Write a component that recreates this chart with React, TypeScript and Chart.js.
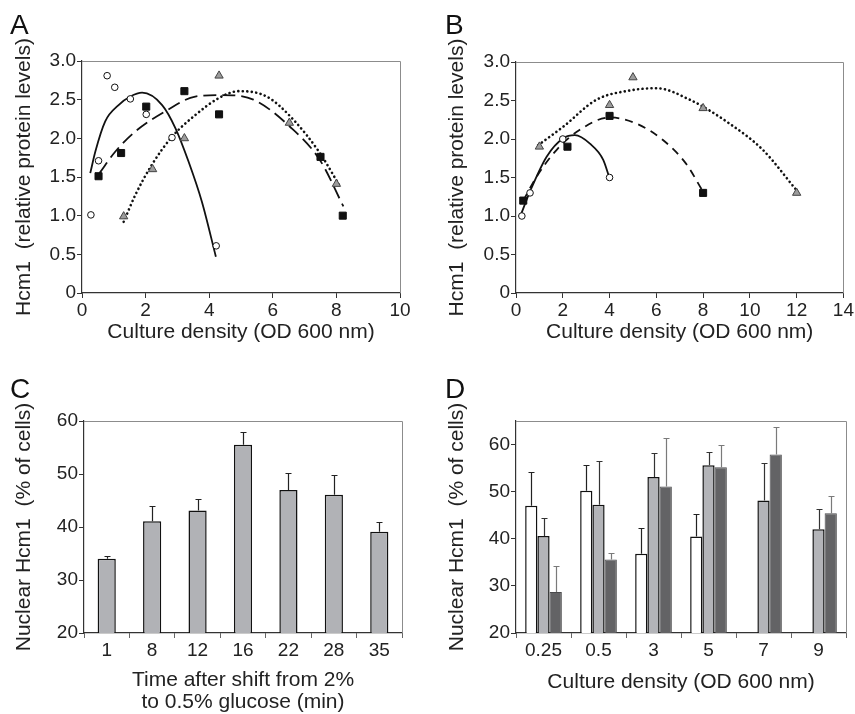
import React, { useEffect, useRef } from "react";
import { Chart, registerables } from "chart.js";
Chart.register(...registerables);

const FONT = "'Liberation Sans', Arial, Helvetica, sans-serif";
const TXT = "#222";
const AXIS = "#333";

// ---------- Panel A ----------
const aCircleX = [0.28, 0.52, 0.79, 1.03, 1.52, 2.02, 2.83, 4.22];
const aCircleY = [1.01, 1.71, 2.81, 2.66, 2.51, 2.31, 2.01, 0.61];
const aSquareX = [0.52, 1.23, 2.02, 3.22, 4.31, 7.5, 8.2];
const aSquareY = [1.51, 1.81, 2.41, 2.61, 2.31, 1.76, 1.0];
const aTriX = [1.31, 2.22, 3.22, 4.31, 6.52, 8.0];
const aTriY = [0.99, 1.6, 2.0, 2.81, 2.2, 1.41];
const aSolidX = [0.26, 0.42, 0.73, 1.15, 1.52, 1.89, 2.52, 2.94, 3.35, 3.77, 4.21];
const aSolidY = [1.55, 1.83, 2.22, 2.43, 2.54, 2.59, 2.43, 2.13, 1.7, 1.18, 0.47];
const aDashX = [0.55, 1.05, 1.68, 2.62, 3.56, 4.4, 5.39, 6.54, 7.48, 8.22];
const aDashY = [1.55, 1.83, 2.09, 2.35, 2.54, 2.56, 2.5, 2.15, 1.72, 1.12];
const aDotX = [1.31, 1.68, 2.2, 2.83, 3.56, 4.3, 4.93, 5.81, 6.65, 7.48, 8.11];
const aDotY = [0.92, 1.27, 1.66, 2.02, 2.3, 2.52, 2.61, 2.54, 2.24, 1.81, 1.38];

// ---------- Panel B ----------
const bCircleX = [0.25, 0.6, 2.0, 4.0];
const bCircleY = [1.0, 1.3, 2.0, 1.5];
const bSquareX = [0.31, 2.2, 4.0, 8.0];
const bSquareY = [1.2, 1.9, 2.3, 1.3];
const bTriX = [1.0, 4.0, 5.0, 8.0, 12.0];
const bTriY = [1.9, 2.44, 2.8, 2.4, 1.3];
const bSolidX = [0.2, 0.6, 1.31, 2.02, 2.52, 3.16, 3.73, 3.98];
const bSolidY = [1.01, 1.32, 1.77, 2.01, 2.05, 1.94, 1.73, 1.51];
const bDashX = [0.31, 0.88, 1.74, 2.73, 4.01, 5.15, 6.27, 7.27, 7.99];
const bDashY = [1.2, 1.51, 1.86, 2.12, 2.28, 2.2, 1.99, 1.68, 1.32];
const bDotX = [0.95, 2.02, 3.44, 4.87, 6.0, 7.43, 9.13, 10.55, 11.98];
const bDotY = [1.92, 2.16, 2.51, 2.63, 2.66, 2.51, 2.2, 1.86, 1.34];

// ---------- Panel C ----------
const cLabels = ["1", "8", "12", "16", "22", "28", "35"];
const cValues = [34.0, 41.1, 43.1, 55.5, 47.0, 46.1, 39.1];
const cErrTop = [34.5, 43.9, 45.3, 58.0, 50.1, 49.9, 40.9];

// ---------- Panel D ----------
const dLabels = ["0.25", "0.5", "3", "5", "7", "9"];
const dWhite = [47.0, 50.2, 36.8, 40.5, null, null];
const dWhiteErr = [54.1, 55.7, 42.3, 45.2, null, null];
const dLight = [40.6, 47.2, 53.1, 55.6, 48.1, 42.0];
const dLightErr = [44.4, 56.5, 58.2, 58.4, 56.1, 46.4];
const dDark = [28.7, 35.6, 51.1, 55.2, 57.9, 45.4];
const dDarkErr = [34.2, 37.0, 61.3, 59.9, 63.7, 49.0];

const pts = (xs: number[], ys: number[]) => xs.map((x, i) => ({ x, y: ys[i] }));

const framePlugin = {
  id: "frame",
  beforeDatasetsDraw(chart: any) {
    const { ctx, chartArea } = chart;
    const { left, top, right, bottom } = chartArea;
    ctx.save();
    ctx.strokeStyle = "#8c8c8c";
    ctx.lineWidth = 1;
    ctx.beginPath();
    ctx.moveTo(left, Math.round(top) + 0.5);
    ctx.lineTo(Math.round(right) + 0.5, Math.round(top) + 0.5);
    ctx.lineTo(Math.round(right) + 0.5, bottom);
    ctx.stroke();
    ctx.restore();
  },
};

const errorPlugin = {
  id: "errbars",
  afterDatasetsDraw(chart: any) {
    const ctx = chart.ctx;
    const ys = chart.scales.y;
    chart.data.datasets.forEach((ds: any, i: number) => {
      if (!ds.errTop) return;
      const meta = chart.getDatasetMeta(i);
      meta.data.forEach((el: any, j: number) => {
        const v = ds.data[j];
        const e = ds.errTop[j];
        if (v == null || e == null) return;
        const x = Math.round(el.x) + 0.5;
        const y1 = Math.round(ys.getPixelForValue(e)) + 0.5;
        ctx.save();
        ctx.strokeStyle = ds.errColor || "#222";
        ctx.lineWidth = 1.2;
        ctx.beginPath();
        ctx.moveTo(x, el.y);
        ctx.lineTo(x, y1);
        ctx.moveTo(x - 3, y1);
        ctx.lineTo(x + 3, y1);
        ctx.stroke();
        ctx.restore();
      });
    });
  },
};

const titleFont = { family: FONT, size: 21 };
const tickFont = { family: FONT, size: 19 };

function markerSets(cx: number[], cy: number[], sx: number[], sy: number[], tx: number[], ty: number[]) {
  return [
    {
      data: pts(cx, cy), showLine: false, order: 0,
      pointStyle: "circle", pointRadius: 3.3, pointBackgroundColor: "#fff",
      pointBorderColor: "#111", pointBorderWidth: 1,
    },
    {
      data: pts(sx, sy), showLine: false, order: 0,
      pointStyle: "rect", pointRadius: 5, pointBackgroundColor: "#111",
      pointBorderColor: "#111", pointBorderWidth: 1,
    },
    {
      data: pts(tx, ty), showLine: false, order: 0,
      pointStyle: "triangle", pointRadius: 4.8, pointBackgroundColor: "#9c9c9c",
      pointBorderColor: "#444", pointBorderWidth: 1,
    },
  ];
}

function curveSet(xs: number[], ys: number[], dash: number[], width: number, cap: string) {
  return {
    data: pts(xs, ys), showLine: true, order: 1, pointRadius: 0,
    borderColor: "#111", borderWidth: width, borderDash: dash, borderCapStyle: cap,
    cubicInterpolationMode: "monotone", fill: false,
  };
}

function scatterConfig(opts: any) {
  return {
    type: "scatter",
    data: { datasets: opts.datasets },
    options: {
      responsive: false,
      animation: false,
      events: [],
      layout: { padding: { left: 0, top: opts.top, right: opts.right, bottom: 0 } },
      plugins: { legend: { display: false }, tooltip: { enabled: false } },
      scales: {
        x: {
          type: "linear", min: 0, max: opts.xMax,
          afterFit: (s: any) => { s.height = opts.xHeight; },
          ticks: { stepSize: 2, font: tickFont, color: TXT, padding: 1, maxRotation: 0 },
          grid: { drawOnChartArea: false, drawTicks: true, tickLength: 5, color: AXIS },
          border: { color: AXIS, width: 1.2 },
          title: { display: true, text: "Culture density (OD 600 nm)", font: titleFont, color: TXT, padding: { top: 0, bottom: opts.xTitlePad } },
        },
        y: {
          type: "linear", min: 0, max: 3,
          afterFit: (s: any) => { s.width = opts.yWidth; },
          ticks: {
            stepSize: 0.5, font: tickFont, color: TXT, padding: 1,
            callback: (v: number) => (v === 0 ? "0" : v.toFixed(1)),
          },
          grid: { drawOnChartArea: false, drawTicks: true, tickLength: 5, color: AXIS },
          border: { color: AXIS, width: 1.2 },
          title: { display: true, text: "Hcm1  (relative protein levels)", font: titleFont, color: TXT, padding: { top: opts.yTitlePad, bottom: 0 } },
        },
      },
    },
    plugins: [framePlugin],
  };
}

function barConfig(opts: any) {
  return {
    type: "bar",
    data: { labels: opts.labels, datasets: opts.datasets },
    options: {
      responsive: false,
      animation: false,
      events: [],
      layout: { padding: { left: 0, top: opts.top, right: opts.right, bottom: 0 } },
      plugins: { legend: { display: false }, tooltip: { enabled: false } },
      datasets: { bar: { categoryPercentage: opts.catPct, barPercentage: opts.barPct } },
      scales: {
        x: {
          type: "category",
          afterFit: (s: any) => { s.height = opts.xHeight; },
          ticks: { font: tickFont, color: TXT, padding: 1, maxRotation: 0 },
          grid: { offset: true, drawOnChartArea: false, drawTicks: true, tickLength: 5, color: "#666" },
          border: { color: AXIS, width: 1.2 },
          title: { display: true, text: opts.xTitle, font: { ...titleFont, lineHeight: 1.05 }, color: TXT, padding: { top: 0, bottom: opts.xTitlePad } },
        },
        y: {
          type: "linear", min: 20, max: opts.yMax,
          afterFit: (s: any) => { s.width = opts.yWidth; },
          ticks: { stepSize: 10, includeBounds: false, font: tickFont, color: TXT, padding: 1 },
          grid: { drawOnChartArea: false, drawTicks: true, tickLength: 5, color: AXIS },
          border: { color: AXIS, width: 1.2 },
          title: { display: true, text: "Nuclear Hcm1  (% of cells)", font: titleFont, color: TXT, padding: { top: opts.yTitlePad, bottom: 0 } },
        },
      },
    },
    plugins: [framePlugin, errorPlugin],
  };
}

function ChartPanel({ left, top, width, height, make }: any) {
  const ref = useRef<HTMLCanvasElement | null>(null);
  useEffect(() => {
    if (!ref.current) return;
    const chart = new Chart(ref.current, make() as any);
    return () => chart.destroy();
  }, []);
  return (
    <canvas
      ref={ref}
      width={width}
      height={height}
      style={{ position: "absolute", left, top, width, height }}
    />
  );
}

const letterStyle = (left: number, top: number): React.CSSProperties => ({
  position: "absolute", left, top, fontFamily: FONT, fontSize: 28, lineHeight: "28px", color: "#111",
});

export default function App() {
  const makeA = () =>
    scatterConfig({
      xMax: 10, top: 61, right: 27, xHeight: 64, yWidth: 82, xTitlePad: 12, yTitlePad: 12,
      datasets: [
        ...markerSets(aCircleX, aCircleY, aSquareX, aSquareY, aTriX, aTriY),
        curveSet(aSolidX, aSolidY, [], 1.8, "butt"),
        curveSet(aDashX, aDashY, [13, 6], 1.8, "butt"),
        curveSet(aDotX, aDotY, [0.1, 4.4], 2.6, "round"),
      ],
    });
  const makeB = () =>
    scatterConfig({
      xMax: 14, top: 62, right: 11, xHeight: 64, yWidth: 89, xTitlePad: 12, yTitlePad: 18,
      datasets: [
        ...markerSets(bCircleX, bCircleY, bSquareX, bSquareY, bTriX, bTriY),
        curveSet(bSolidX, bSolidY, [], 1.8, "butt"),
        curveSet(bDashX, bDashY, [8, 6], 1.8, "butt"),
        curveSet(bDotX, bDotY, [0.1, 4.4], 2.6, "round"),
      ],
    });
  const makeC = () =>
    barConfig({
      labels: cLabels, yMax: 60, top: 64, right: 25, xHeight: 81, yWidth: 84, xTitlePad: 1, yTitlePad: 12,
      catPct: 1, barPct: 0.4,
      xTitle: ["Time after shift from 2%", "to 0.5% glucose (min)"],
      datasets: [
        {
          data: cValues, errTop: cErrTop, errColor: "#222",
          backgroundColor: "#b1b2b6", borderColor: "#111", borderWidth: 1.5,
        },
      ],
    });
  const makeD = () =>
    barConfig({
      labels: dLabels, yMax: 65, top: 64, right: 9, xHeight: 81, yWidth: 89, xTitlePad: 21, yTitlePad: 18,
      catPct: 0.667, barPct: 1,
      xTitle: "Culture density (OD 600 nm)",
      datasets: [
        { data: dWhite, errTop: dWhiteErr, errColor: "#222", backgroundColor: "#ffffff", borderColor: "#111", borderWidth: 1.5 },
        { data: dLight, errTop: dLightErr, errColor: "#333", backgroundColor: "#b3b4b8", borderColor: "#111", borderWidth: 1.5 },
        { data: dDark, errTop: dDarkErr, errColor: "#7a7a7a", backgroundColor: "#636365", borderColor: "#4a4a4c", borderWidth: 1 },
      ],
    });

  return (
    <div style={{ position: "absolute", left: 0, top: 0, width: 855, height: 714, background: "#fff", overflow: "hidden" }}>
      <ChartPanel left={0} top={0} width={427} height={357} make={makeA} />
      <ChartPanel left={427} top={0} width={428} height={357} make={makeB} />
      <ChartPanel left={0} top={357} width={427} height={357} make={makeC} />
      <ChartPanel left={427} top={357} width={428} height={357} make={makeD} />
      <div style={letterStyle(10, 11)}>A</div>
      <div style={letterStyle(445, 11)}>B</div>
      <div style={letterStyle(10, 375)}>C</div>
      <div style={letterStyle(445, 375)}>D</div>
    </div>
  );
}
